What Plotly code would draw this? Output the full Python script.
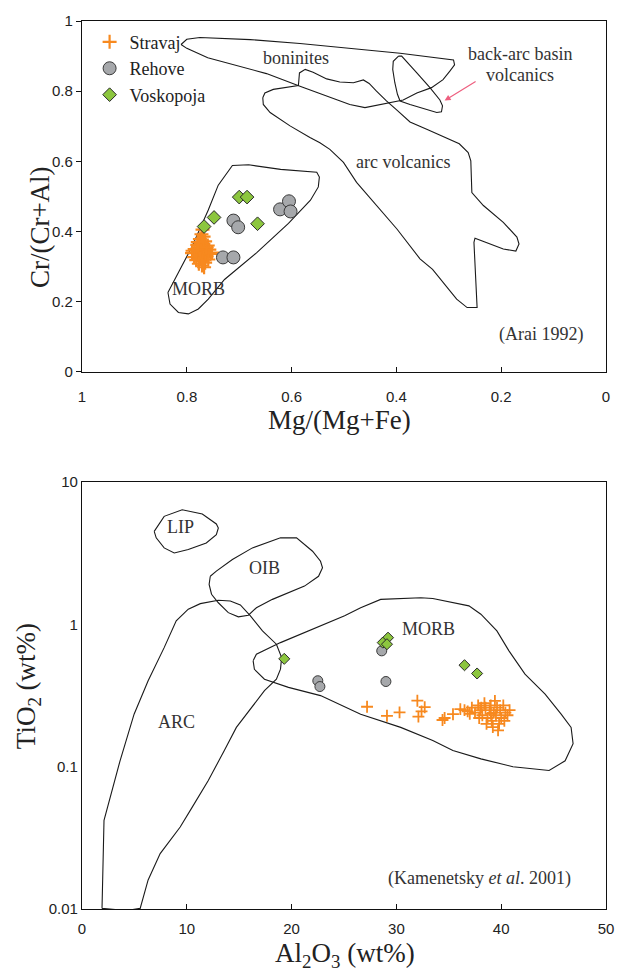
import math
import plotly.graph_objects as go

# ---------------- Top diagram (Arai 1992): Mg/(Mg+Fe) vs Cr/(Cr+Al) ----------------
strav_mg = [0.770, 0.772, 0.768, 0.775, 0.765, 0.771, 0.780, 0.760, 0.776, 0.768, 0.785, 0.757,
            0.773, 0.764, 0.781, 0.790, 0.755, 0.770, 0.778, 0.762, 0.786, 0.768, 0.775, 0.759,
            0.782, 0.770, 0.765, 0.777, 0.771, 0.767, 0.789, 0.752, 0.762, 0.779]
strav_cr = [0.405, 0.392, 0.385, 0.378, 0.372, 0.366, 0.362, 0.360, 0.355, 0.352, 0.350, 0.348,
            0.345, 0.342, 0.340, 0.338, 0.336, 0.334, 0.331, 0.329, 0.327, 0.325, 0.322, 0.320,
            0.318, 0.315, 0.311, 0.308, 0.303, 0.298, 0.345, 0.340, 0.355, 0.370]
reh_mg = [0.711, 0.702, 0.731, 0.711, 0.622, 0.605, 0.602]
reh_cr = [0.431, 0.412, 0.326, 0.326, 0.463, 0.486, 0.457]
vos_mg = [0.700, 0.685, 0.748, 0.665, 0.767]
vos_cr = [0.498, 0.498, 0.440, 0.422, 0.414]

bon_x = [0.811, 0.800, 0.775, 0.740, 0.679, 0.584, 0.489, 0.393, 0.291, 0.289, 0.298, 0.311, 0.333,
         0.361, 0.387, 0.425, 0.460, 0.489, 0.552, 0.584, 0.648, 0.700, 0.760, 0.800, 0.811]
bon_y = [0.933, 0.948, 0.953, 0.951, 0.947, 0.936, 0.922, 0.908, 0.889, 0.875, 0.857, 0.833, 0.810,
         0.795, 0.775, 0.764, 0.753, 0.762, 0.795, 0.814, 0.850, 0.870, 0.895, 0.922, 0.933]
bab_x = [0.396, 0.406, 0.407, 0.403, 0.398, 0.393, 0.374, 0.349, 0.323, 0.314, 0.312, 0.317, 0.336,
         0.361, 0.380, 0.390, 0.396]
bab_y = [0.900, 0.885, 0.862, 0.824, 0.791, 0.772, 0.762, 0.750, 0.739, 0.741, 0.758, 0.775, 0.810,
         0.852, 0.885, 0.900, 0.900]
arcv_x = [0.655, 0.651, 0.635, 0.609, 0.587, 0.585, 0.574, 0.559, 0.533, 0.508, 0.482, 0.463, 0.452,
          0.438, 0.419, 0.399, 0.374, 0.340, 0.300, 0.280, 0.263, 0.258, 0.256, 0.234, 0.196, 0.170,
          0.166, 0.172, 0.196, 0.228, 0.250, 0.252, 0.250, 0.246, 0.265, 0.285, 0.331, 0.355, 0.399,
          0.444, 0.476, 0.501, 0.527, 0.546, 0.565, 0.603, 0.641, 0.654, 0.655]
arcv_y = [0.781, 0.795, 0.805, 0.812, 0.816, 0.852, 0.862, 0.854, 0.835, 0.826, 0.824, 0.832, 0.822,
          0.800, 0.772, 0.746, 0.712, 0.690, 0.662, 0.650, 0.625, 0.601, 0.511, 0.474, 0.426, 0.384,
          0.364, 0.344, 0.350, 0.369, 0.381, 0.369, 0.312, 0.183, 0.183, 0.207, 0.292, 0.322, 0.407,
          0.483, 0.540, 0.597, 0.634, 0.653, 0.668, 0.701, 0.739, 0.762, 0.781]
morbt_x = [0.836, 0.820, 0.790, 0.759, 0.740, 0.713, 0.682, 0.621, 0.552, 0.547, 0.549, 0.564, 0.606,
           0.667, 0.728, 0.759, 0.778, 0.797, 0.816, 0.832, 0.836]
morbt_y = [0.226, 0.273, 0.357, 0.461, 0.532, 0.588, 0.590, 0.577, 0.569, 0.555, 0.527, 0.489, 0.423,
           0.339, 0.263, 0.207, 0.179, 0.165, 0.169, 0.193, 0.226]

# ---------------- Bottom diagram (Kamenetsky et al. 2001): Al2O3 vs TiO2 ----------------
strav_al = [27.2, 29.1, 30.3, 32.0, 32.7, 32.1, 32.4, 34.4, 34.6, 35.4, 36.1,
            36.8, 37.2, 37.5, 37.8, 38.0, 38.2, 38.4, 38.5, 38.7, 38.9, 39.0, 39.1, 39.3, 39.4,
            39.5, 39.6, 39.8, 39.9, 40.0, 40.2, 40.4, 40.6, 40.8, 39.2, 39.7, 38.6, 37.9, 38.1,
            39.0, 40.3, 37.0, 36.5]
strav_ti = [0.264, 0.228, 0.241, 0.291, 0.262, 0.225, 0.245, 0.213, 0.220, 0.234, 0.254,
            0.245, 0.260, 0.240, 0.270, 0.250, 0.230, 0.280, 0.260, 0.220, 0.250, 0.270, 0.210, 0.240, 0.290,
            0.230, 0.260, 0.200, 0.250, 0.220, 0.270, 0.240, 0.230, 0.250, 0.190, 0.180, 0.200, 0.220, 0.260,
            0.235, 0.210, 0.235, 0.250]
reh_al = [28.6, 22.5, 22.7, 29.0]
reh_ti = [0.652, 0.402, 0.366, 0.397]
vos_al = [19.3, 29.2, 28.7, 29.1, 36.5, 37.7]
vos_ti = [0.573, 0.807, 0.745, 0.726, 0.517, 0.452]

lip_al = [6.89, 7.84, 9.56, 11.48, 12.82, 13.01, 12.82, 11.86, 10.14, 8.80, 7.84, 7.08, 6.89]
lip_ti = [4.51, 5.75, 6.40, 5.97, 5.08, 4.76, 4.28, 3.74, 3.36, 3.18, 3.45, 4.06, 4.51]
oib_al = [12.24, 12.82, 14.35, 16.26, 18.94, 20.47, 22.00, 22.76, 22.95, 22.57, 21.23, 19.70, 18.17,
          16.64, 15.88, 14.92, 13.96, 13.01, 12.36, 12.13, 12.24]
oib_ti = [2.18, 2.37, 2.86, 3.45, 4.06, 4.06, 3.27, 2.78, 2.50, 2.18, 1.86, 1.67, 1.50,
          1.31, 1.16, 1.13, 1.21, 1.42, 1.63, 1.91, 2.18]
arc_al = [1.91, 2.10, 3.63, 4.97, 6.31, 7.84, 8.99, 10.14, 11.29, 13.01, 14.15, 15.11, 16.07, 17.22,
          18.55, 19.05, 18.94, 18.55, 17.41, 15.88, 14.73, 13.58, 12.05, 10.52, 9.37, 7.46, 6.31,
          5.55, 4.40, 3.25, 1.91]
arc_ti = [0.0101, 0.0420, 0.110, 0.234, 0.402, 0.687, 1.06, 1.28, 1.40, 1.48, 1.46, 1.37, 1.15, 0.90,
          0.726, 0.585, 0.485, 0.412, 0.342, 0.241, 0.189, 0.130, 0.080, 0.052, 0.0377, 0.0245, 0.0160,
          0.0101, 0.0098, 0.0099, 0.0101]
morb_al = [16.33, 16.64, 18.94, 22.76, 25.06, 26.59, 28.50, 32.33, 33.47, 36.92, 38.06, 39.59, 40.74,
           42.27, 44.19, 45.72, 46.67, 46.86, 46.10, 44.57, 41.12, 38.06, 35.39, 33.47, 30.41, 26.59,
           22.76, 19.70, 17.41, 16.45, 16.33]
morb_ti = [0.555, 0.618, 0.745, 0.975, 1.15, 1.31, 1.50, 1.54, 1.52, 1.35, 1.18, 0.90, 0.652,
           0.447, 0.324, 0.234, 0.189, 0.145, 0.110, 0.094, 0.100, 0.1135, 0.130, 0.153, 0.189, 0.234,
           0.316, 0.361, 0.412, 0.484, 0.555]

ORANGE = "#f7891f"
GREY = "#a6a8ab"
GREEN = "#8cc63e"
SERIF = "Liberation Serif"
SANS = "Liberation Sans"

fig = go.Figure()

def outline(x, y, xa, ya):
    fig.add_trace(go.Scatter(x=x, y=y, mode="lines", xaxis=xa, yaxis=ya, showlegend=False,
                             line=dict(color="#1a1a1a", width=1.1), hoverinfo="skip"))

for px_, py_ in [(bon_x, bon_y), (bab_x, bab_y), (arcv_x, arcv_y), (morbt_x, morbt_y)]:
    outline(px_, py_, "x", "y")
for px_, py_ in [(lip_al, lip_ti), (oib_al, oib_ti), (arc_al, arc_ti), (morb_al, morb_ti)]:
    outline(px_, py_, "x2", "y2")

# top data
fig.add_trace(go.Scatter(x=strav_mg, y=strav_cr, mode="markers", name="Stravaj", legendgroup="a",
                         marker=dict(symbol="cross-thin", size=10, line=dict(color=ORANGE, width=2.2), color=ORANGE)))
fig.add_trace(go.Scatter(x=reh_mg, y=reh_cr, mode="markers", name="Rehove", legendgroup="b",
                         marker=dict(symbol="circle", size=13, color=GREY, line=dict(color="#3a3a3a", width=1))))
fig.add_trace(go.Scatter(x=vos_mg, y=vos_cr, mode="markers", name="Voskopoja", legendgroup="c",
                         marker=dict(symbol="diamond", size=10.5, color=GREEN, line=dict(color="#2a2a2a", width=1))))
# bottom data
fig.add_trace(go.Scatter(x=strav_al, y=strav_ti, mode="markers", xaxis="x2", yaxis="y2", showlegend=False,
                         marker=dict(symbol="cross-thin", size=8.5, line=dict(color=ORANGE, width=1.8), color=ORANGE)))
fig.add_trace(go.Scatter(x=reh_al, y=reh_ti, mode="markers", xaxis="x2", yaxis="y2", showlegend=False,
                         marker=dict(symbol="circle", size=10, color=GREY, line=dict(color="#3a3a3a", width=1))))
fig.add_trace(go.Scatter(x=vos_al, y=vos_ti, mode="markers", xaxis="x2", yaxis="y2", showlegend=False,
                         marker=dict(symbol="diamond", size=8.5, color=GREEN, line=dict(color="#2a2a2a", width=1))))

tickfont = dict(family=SANS, size=15, color="#222")
lab = dict(family=SERIF, size=18, color="#333")
ttl = dict(family=SERIF, size=27, color="#222")

def lg(v):
    return math.log10(v)

ann = [
    dict(x=0.591, y=0.894, xref="x", yref="y", text="boninites", showarrow=False, font=lab),
    dict(x=0.164, y=0.905, xref="x", yref="y", text="back-arc basin", showarrow=False, font=lab),
    dict(x=0.164, y=0.847, xref="x", yref="y", text="volcanics", showarrow=False, font=lab),
    dict(x=0.388, y=0.597, xref="x", yref="y", text="arc volcanics", showarrow=False, font=lab),
    dict(x=0.777, y=0.237, xref="x", yref="y", text="MORB", showarrow=False, font=lab),
    dict(x=0.125, y=0.106, xref="x", yref="y", text="(Arai 1992)", showarrow=False, font=lab),
    dict(x=0.308, y=0.773, ax=0.246, ay=0.830, xref="x", yref="y", axref="x", ayref="y", text="",
         showarrow=True, arrowhead=2, arrowsize=1, arrowwidth=1.2, arrowcolor="#ee5f7f"),
    dict(x=9.4, y=lg(4.8), xref="x2", yref="y2", text="LIP", showarrow=False, font=lab),
    dict(x=17.4, y=lg(2.5), xref="x2", yref="y2", text="OIB", showarrow=False, font=lab),
    dict(x=9.0, y=lg(0.207), xref="x2", yref="y2", text="ARC", showarrow=False, font=lab),
    dict(x=33.1, y=lg(0.933), xref="x2", yref="y2", text="MORB", showarrow=False, font=lab),
    dict(x=37.9, y=lg(0.0164), xref="x2", yref="y2", text="(Kamenetsky <i>et al</i>. 2001)",
         showarrow=False, font=lab),
    # axis titles
    dict(x=-0.080, y=0.768, xref="paper", yref="paper", text="Cr/(Cr+Al)", textangle=-90,
         xanchor="center", yanchor="middle", showarrow=False, font=ttl),
    dict(x=0.492, y=0.551, xref="paper", yref="paper", text="Mg/(Mg+Fe)",
         xanchor="center", yanchor="middle", showarrow=False, font=ttl),
    dict(x=-0.103, y=0.251, xref="paper", yref="paper", text="TiO<sub>2</sub> (wt%)", textangle=-90,
         xanchor="center", yanchor="middle", showarrow=False, font=ttl),
    dict(x=0.502, y=-0.052, xref="paper", yref="paper", text="Al<sub>2</sub>O<sub>3</sub> (wt%)",
         xanchor="center", yanchor="middle", showarrow=False, font=ttl),
]

axcommon = dict(showgrid=False, zeroline=False, showline=True, linecolor="#111", linewidth=1.2,
                mirror=True, tickfont=tickfont, tickcolor="#111")

fig.update_layout(
    width=627, height=971,
    margin=dict(l=82, r=21, t=18, b=62),
    paper_bgcolor="white", plot_bgcolor="white",
    xaxis=dict(axcommon, domain=[0, 1], anchor="y", range=[1, 0], tickvals=[1, 0.8, 0.6, 0.4, 0.2, 0],
               ticktext=["1", "0.8", "0.6", "0.4", "0.2", "0"], ticks="inside", ticklen=5,
               ticklabelstandoff=11),
    yaxis=dict(axcommon, domain=[0.605, 1.0], anchor="x", range=[0, 1], tickvals=[0, 0.2, 0.4, 0.6, 0.8, 1],
               ticktext=["0", "0.2", "0.4", "0.6", "0.8", "1"], ticks="outside", ticklen=5),
    xaxis2=dict(axcommon, domain=[0, 1], anchor="y2", range=[0, 50], tickvals=[0, 10, 20, 30, 40, 50],
                ticks="inside", ticklen=5, ticklabelstandoff=6),
    yaxis2=dict(axcommon, domain=[0, 0.4807], anchor="x2", type="log", range=[-2, 1],
                tickvals=[0.01, 0.1, 1, 10], ticktext=["0.01", "0.1", "1", "10"], ticks="", ticklen=0),
    annotations=ann,
    showlegend=True,
    legend=dict(x=0.0145, y=0.997, xanchor="left", yanchor="top", bgcolor="rgba(0,0,0,0)",
                font=dict(family=SERIF, size=18, color="#222"), traceorder="grouped", tracegroupgap=0,
                itemsizing="trace"),
)

fig.write_html("out.html", config={"displayModeBar": False},
               post_script="document.body.style.margin='0px';")
